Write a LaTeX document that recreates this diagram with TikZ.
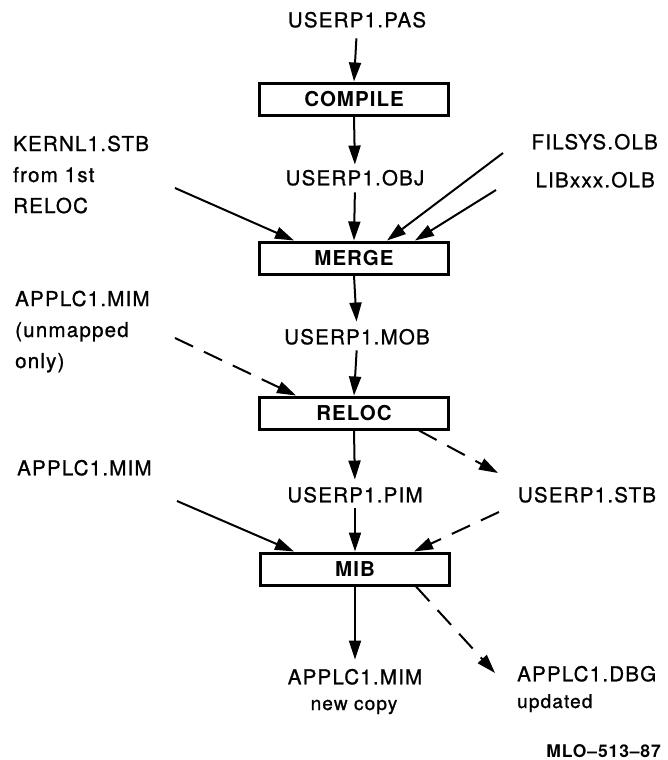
\documentclass[tikz,border=0pt]{standalone}
\usepackage{fontspec}
\setmainfont{TeX Gyre Heros}[LetterSpace=6, FakeBold=1]
\newfontfamily\boxfont{TeX Gyre Heros}[LetterSpace=5]
\usetikzlibrary{arrows.meta,calc}

\tikzset{
  lbl/.style={inner sep=0pt, text height=14.5pt, text depth=0pt, font=\fontsize{20.5}{31}\selectfont},
  small/.style={inner sep=0pt, font=\fontsize{19}{24}\selectfont},
  multi/.style={inner sep=0pt, align=left, anchor=north west, font=\fontsize{20.5}{31}\selectfont},
  stepbox/.style={draw, line width=3pt, minimum width=189pt, minimum height=32pt,
    inner sep=0pt, font=\boxfont\fontsize{20.5}{24}\selectfont\bfseries},
  flow/.style={line width=2pt, -{Triangle[length=19pt,width=12pt]}},
  dflow/.style={flow, dash pattern=on 20pt off 12pt},
}

\begin{document}
\begin{tikzpicture}[x=1pt, y=-1pt]
\useasboundingbox (0,0) rectangle (667,760);

% process boxes
\node[stepbox] (compile) at (354,99)  {COMPILE};
\node[stepbox] (merge)   at (354,258) {MERGE};
\node[stepbox] (reloc)   at (354,413) {RELOC};
\node[stepbox] (mib)     at (355,569) {MIB};

% files along the main chain
\node[lbl] (pas) at (357,20)  {USERP1.PAS};
\node[lbl] (obj) at (355,178) {USERP1.OBJ};
\node[lbl] (mob) at (357,337) {USERP1.MOB};
\node[lbl] (pim) at (355,495) {USERP1.PIM};
\node[lbl] (mimnew) at (355,677) {APPLC1.MIM};
\node[small, anchor=base] (newcopy) at (354,710) {new\ copy};

% side inputs and outputs
\node[multi] (kern) at (13,135.5) {KERNL1.STB\\from 1st\\RELOC};
\node[multi] (unmap) at (15,290.5) {APPLC1.MIM\\(unmapped\\only)};
\node[lbl, anchor=west] (applc) at (17,468) {APPLC1.MIM};
\node[lbl, anchor=east] (filsys) at (658,142) {FILSYS.OLB};
\node[lbl, anchor=east] (libxxx) at (655,180) {LIBxxx.OLB};
\node[lbl] (stb) at (587,495) {USERP1.STB};
\node[lbl, anchor=west] (dbg) at (517,674) {APPLC1.DBG};
\node[small, anchor=base west] (updated) at (517,708) {updated};
\node[inner sep=0pt, anchor=east, font=\boxfont\fontsize{17.5}{20}\selectfont\bfseries] (mlo) at (661,751) {MLO–513–87};

% free ends of the slanted connectors
\coordinate (kernout)   at (175,188);
\coordinate (unmapout)  at (175,338);
\coordinate (applcout)  at (177,501);
\coordinate (filsysout) at (503,153);
\coordinate (libout)    at (496,190);
\coordinate (stbin)     at (498,473);
\coordinate (stbout)    at (499,512);
\coordinate (dbgin)     at (495,673);

% main chain
\draw[flow, shorten <=11pt] (pas.south) -- (compile.north);
\draw[flow, shorten >=6pt] (compile.south) -- (obj.north);
\draw[flow, shorten <=7pt] (obj.south) -- (merge.north);
\draw[flow, shorten >=8pt] (merge.south) -- (mob.north);
\draw[flow, shorten <=6pt] (mob.south) -- (reloc.north);
\draw[flow, shorten >=8pt] (reloc.south) -- (pim.north);
\draw[flow, shorten <=6pt] (pim.south) -- (mib.north);
\draw[flow, shorten >=10pt] (mib.south) -- (mimnew.north);

% inputs to MERGE
\draw[flow] (kernout) -- ($(merge.north west)+(36,0)$);
\draw[flow] (filsysout) -- ($(merge.north east)+(-63,0)$);
\draw[flow] (libout) -- ($(merge.north east)+(-35,0)$);

% RELOC input and symbol table output
\draw[dflow] (unmapout) -- ($(reloc.north west)+(38,0)$);
\draw[dflow] ($(reloc.south east)+(-31,0)$) -- (stbin);

% MIB inputs and debug output
\draw[flow] (applcout) -- ($(mib.north west)+(35,0)$);
\draw[dflow] (stbout) -- ($(mib.north east)+(-37,0)$);
\draw[dflow] ($(mib.south east)+(-35,0)$) -- (dbgin);
\end{tikzpicture}
\end{document}
